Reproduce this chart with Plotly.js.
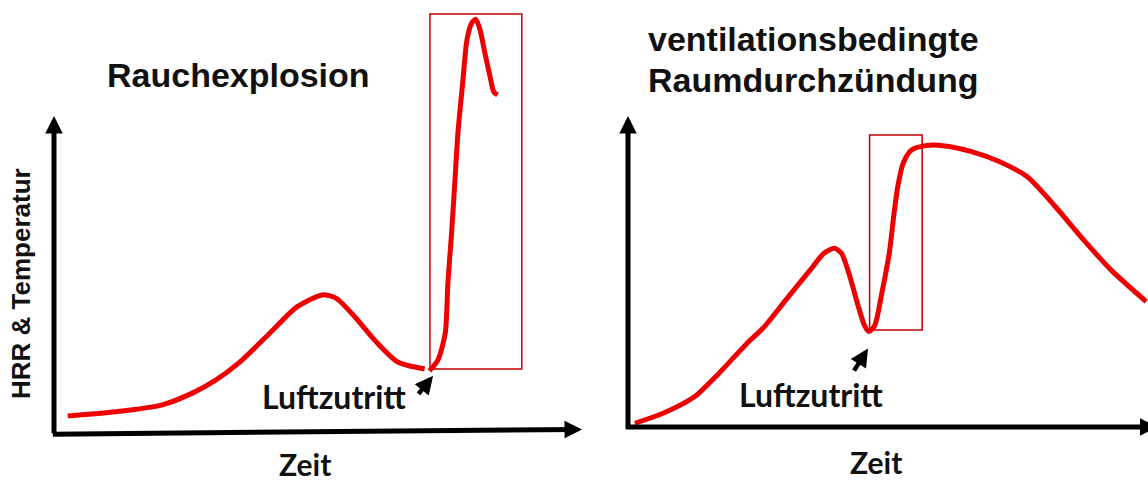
<!DOCTYPE html>
<html>
<head>
<meta charset="utf-8">
<script src="https://cdn.plot.ly/plotly-3.0.1.min.js"></script>
<style>html,body{margin:0;padding:0;background:#fff;}#chart{width:1148px;height:483px;}</style>
</head>
<body>
<div id="chart"></div>
<script>
// ---- Data (Zeit in % of axis length, HRR/Temperatur in % of axis height) ----
// Left panel: Rauchexplosion
const leftTime1 = [2.6, 11.7, 20.5, 26.3, 30.7, 35.0, 40.9, 46.0, 50.8, 53.4, 57.0, 60.7, 65.1, 70.2];
const leftHRR1  = [4.8, 6.1, 8.3, 12.1, 16.2, 21.6, 31.1, 39.4, 43.2, 42.2, 36.2, 28.9, 21.9, 19.7];
const leftTime2 = [71.1, 72.7, 74.1, 74.6, 75.3, 75.9, 76.5, 77.4, 78.2, 79.1, 79.9, 80.7, 81.6, 82.6, 83.3, 84.0];
const leftHRR2  = [19.1, 22.5, 31.1, 47.0, 62.9, 78.7, 94.6, 110.5, 124.1, 129.5, 130.7, 127.3, 120.0, 112.4, 107.6, 106.7];
const leftBoxTime = [71.2, 88.6];
const leftBoxHRR  = [19.7, 132.4];
const leftAirTime = 71.8, leftAirHRR = 17.5;

// Right panel: ventilationsbedingte Raumdurchzündung
const rightTime = [1.3, 6.6, 12.5, 17.1, 22.4, 25.7, 29.7, 34.3, 36.9, 38.9, 40.2, 41.6, 43.2, 44.5, 45.4, 46.5, 47.8, 49.2, 50.1, 50.8, 51.8, 53.4, 56.1, 59.3, 64.7, 69.9, 75.2, 80.5, 85.8, 91.0, 97.6];
const rightHRR  = [1.5, 4.7, 10.0, 17.5, 27.1, 32.5, 41.0, 50.6, 56.0, 57.6, 56.0, 49.6, 40.0, 33.0, 30.9, 33.0, 43.2, 56.0, 68.8, 77.3, 84.8, 89.1, 90.5, 90.5, 88.6, 85.4, 80.5, 70.9, 60.3, 50.6, 40.5];
const rightBoxTime = [45.5, 55.4];
const rightBoxHRR  = [31.4, 93.9];
const rightAirTime = 45.2, rightAirHRR = 25.5;

// Texts
const titleLeft = "Rauchexplosion";
const titleRight = ["ventilationsbedingte", "Raumdurchzündung"];
const yLabel = "HRR & Temperatur";
const xLabel = "Zeit";
const airLabel = "Luftzutritt";

// ---- Styles ----
const RED = "#ee0000";
const BOX = "#c00000";
const curveLine = {color: RED, width: 5, shape: "spline", smoothing: 0.7};
const titleFont = {family: "Liberation Sans, Arial, sans-serif", size: 34, color: "#111", weight: "bold"};
const labelFont = {family: "Lato, Carlito, sans-serif", size: 32, color: "#111", weight: "bold"};
const zeitFont = {family: "Lato, Carlito, sans-serif", size: 30, color: "#111", weight: "bold"};

const traces = [
  {x: leftTime1, y: leftHRR1, xaxis: "x", yaxis: "y", mode: "lines", line: curveLine, hoverinfo: "skip"},
  {x: leftTime2, y: leftHRR2, xaxis: "x", yaxis: "y", mode: "lines", line: curveLine, hoverinfo: "skip"},
  {x: rightTime, y: rightHRR, xaxis: "x2", yaxis: "y2", mode: "lines", line: curveLine, hoverinfo: "skip"}
];

function axisArrow(xr, yr, x, y, ax, ay, side) {
  const a = {xref: xr, yref: yr, axref: xr, ayref: yr, x: x, y: y, ax: ax, ay: ay, text: "",
    showarrow: true, arrowcolor: "#000", arrowwidth: 5, standoff: 0, startstandoff: 0};
  if (side === "start") { a.arrowside = "start"; a.startarrowhead = 2; a.startarrowsize = 0.7; }
  else { a.arrowhead = 2; a.arrowsize = 0.7; }
  return a;
}
function smallArrow(xr, yr, x, y, ax, ay) {
  return {xref: xr, yref: yr, axref: xr, ayref: yr, x: x, y: y, ax: ax, ay: ay, text: "",
    showarrow: true, arrowcolor: "#000", arrowwidth: 4.5, arrowhead: 2, arrowsize: 0.8, standoff: 0};
}
function paperText(text, px, py, font, opts) {
  return Object.assign({xref: "paper", yref: "paper", x: px / 1148, y: 1 - py / 483, text: text,
    showarrow: false, font: font, xanchor: "center", yanchor: "middle"}, opts || {});
}

const annotations = [
  // axes
  axisArrow("x", "y", 0, 100, 0, -1.2),
  axisArrow("x", "y", 100, 0.5, -0.5, -1.0),
  axisArrow("x2", "y2", 0, 100, 0, -0.7),
  axisArrow("x2", "y2", -0.4, 0.3, 100, 0.3, "start"),
  // Luftzutritt arrows
  smallArrow("x", "y", leftAirTime, leftAirHRR, leftAirTime - 3.0, leftAirHRR - 6.2),
  smallArrow("x2", "y2", rightAirTime, rightAirHRR, rightAirTime - 2.8, rightAirHRR - 7.6),
  // Luftzutritt labels
  {xref: "x", yref: "y", x: 53.0, y: 10.8, text: airLabel, showarrow: false, font: labelFont, xanchor: "center", yanchor: "middle"},
  {xref: "x2", yref: "y2", x: 34.4, y: 10.6, text: airLabel, showarrow: false, font: labelFont, xanchor: "center", yanchor: "middle"},
  // titles
  paperText(titleLeft, 238, 75, titleFont),
  paperText(titleRight[0], 646, 39, titleFont, {xanchor: "left"}),
  paperText(titleRight[1], 646, 80, titleFont, {xanchor: "left"}),
  // axis labels
  paperText(yLabel, 21, 284, Object.assign({}, titleFont, {size: 26}), {textangle: -90}),
  paperText(xLabel, 305, 464, zeitFont),
  paperText(xLabel, 876, 462, zeitFont)
];

const shapes = [
  {type: "rect", xref: "x", yref: "y", x0: leftBoxTime[0], x1: leftBoxTime[1], y0: leftBoxHRR[0], y1: leftBoxHRR[1],
   line: {color: BOX, width: 1.5}, layer: "below"},
  {type: "rect", xref: "x2", yref: "y2", x0: rightBoxTime[0], x1: rightBoxTime[1], y0: rightBoxHRR[0], y1: rightBoxHRR[1],
   line: {color: BOX, width: 1.5}, layer: "below"}
];

const hidden = {visible: false, fixedrange: true};
const layout = {
  width: 1148, height: 483, autosize: false,
  margin: {l: 0, r: 0, t: 0, b: 0, pad: 0},
  paper_bgcolor: "#fff", plot_bgcolor: "#fff",
  showlegend: false,
  xaxis: Object.assign({domain: [0, 0.52], range: [-10.227, 102.83], anchor: "y"}, hidden),
  yaxis: Object.assign({domain: [0, 1], range: [-16.51, 136.83], anchor: "x"}, hidden),
  xaxis2: Object.assign({domain: [0.52, 1], range: [-5.845, 97.93], anchor: "y2"}, hidden),
  yaxis2: Object.assign({domain: [0, 1], range: [-17.63, 137.18], anchor: "x2"}, hidden),
  annotations: annotations,
  shapes: shapes
};

Plotly.newPlot("chart", traces, layout, {displayModeBar: false, staticPlot: true});
</script>
</body>
</html>
